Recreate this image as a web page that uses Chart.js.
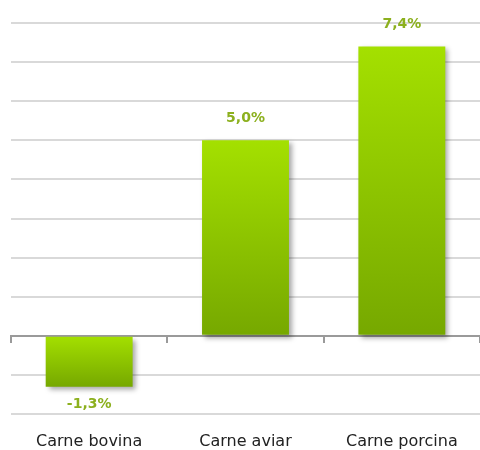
<!DOCTYPE html>
<html>
<head>
<meta charset="utf-8">
<script src="https://cdn.jsdelivr.net/npm/chart.js@4"></script>
<style>
  html, body { margin: 0; padding: 0; background: #fff; }
  #wrap { width: 480px; height: 450px; }
</style>
</head>
<body>
<div id="wrap"><canvas id="chart" width="480" height="450"></canvas></div>
<script>
const categories = ['Carne bovina', 'Carne aviar', 'Carne porcina'];
const growth = [-1.3, 5.0, 7.4];
const valueLabels = ['-1,3%', '5,0%', '7,4%'];

const fontFamily = '"DejaVu Sans", Verdana, sans-serif';

// soft drop shadow under the bars
const barShadowPlugin = {
    id: 'barShadow',
    beforeDatasetsDraw(chart) {
        const ctx = chart.ctx;
        ctx.save();
        ctx.shadowColor = 'rgba(0,0,0,0.35)';
        ctx.shadowBlur = 5;
        ctx.shadowOffsetX = 3;
        ctx.shadowOffsetY = 3;
    },
    afterDatasetsDraw(chart) {
        chart.ctx.restore();
    }
};

// value labels above / below the bars
const valueLabelPlugin = {
    id: 'valueLabels',
    afterDatasetsDraw(chart) {
        const ctx = chart.ctx;
        const meta = chart.getDatasetMeta(0);
        ctx.save();
        ctx.font = 'bold 14px ' + fontFamily;
        ctx.textAlign = 'center';
        ctx.textBaseline = 'middle';
        ctx.fillStyle = '#8cb01e';
        meta.data.forEach((bar, i) => {
            const v = growth[i];
            const y = v >= 0 ? bar.y - 22 : bar.y + 18;
            ctx.fillText(valueLabels[i], bar.x, y);
        });
        ctx.restore();
    }
};

function barGradient(context) {
    const chart = context.chart;
    if (!chart.chartArea || context.parsed === undefined) return '#8fc800';
    const yScale = chart.scales.y;
    const v = context.parsed.y;
    const p0 = yScale.getPixelForValue(0);
    const p1 = yScale.getPixelForValue(v);
    const top = Math.min(p0, p1);
    const bottom = Math.max(p0, p1);
    const g = chart.ctx.createLinearGradient(0, top, 0, bottom);
    g.addColorStop(0, '#a4e000');
    g.addColorStop(1, '#76a800');
    return g;
}

const ctx = document.getElementById('chart').getContext('2d');
const chart = new Chart(ctx, {
    type: 'bar',
    data: {
        labels: categories,
        datasets: [{
            data: growth,
            backgroundColor: barGradient,
            borderWidth: 0,
            barPercentage: 0.556,
            categoryPercentage: 1.0,
            xAxisID: 'x'
        }]
    },
    options: {
        responsive: false,
        animation: false,
        layout: {
            padding: { left: 11, right: 0, top: 23, bottom: 0 }
        },
        plugins: {
            legend: { display: false },
            tooltip: { enabled: false }
        },
        scales: {
            x: {
                type: 'category',
                position: 'bottom',
                grid: { display: false, drawTicks: false },
                border: { display: false },
                ticks: {
                    padding: 18,
                    color: '#222',
                    font: { family: fontFamily, size: 16 }
                },
                afterFit: (scale) => { scale.height = 36; }
            },
            xZero: {
                type: 'category',
                labels: categories,
                position: { y: 0 },
                offset: true,
                grid: {
                    offset: true,
                    drawOnChartArea: false,
                    drawTicks: true,
                    tickLength: 6,
                    color: '#9a9a9a',
                    lineWidth: 2
                },
                border: { display: true, color: '#9a9a9a', width: 2 },
                ticks: { display: false }
            },
            y: {
                min: -2,
                max: 8,
                ticks: { display: false, stepSize: 1 },
                border: { display: false },
                grid: {
                    drawTicks: false,
                    color: (c) => c.tick && c.tick.value === 0 ? '#9a9a9a' : '#d9d9d9',
                    lineWidth: 2
                }
            }
        }
    },
    plugins: [barShadowPlugin, valueLabelPlugin]
});
</script>
</body>
</html>
